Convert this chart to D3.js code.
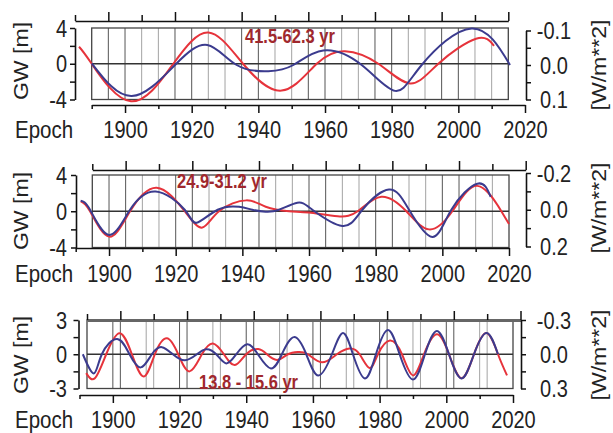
<!DOCTYPE html>
<html>
<head>
<meta charset="utf-8">
<script src="https://cdn.jsdelivr.net/npm/d3@7"></script>
<style>
body { margin: 0; background: #fff; }
</style>
</head>
<body>
<div id="chart"></div>
<script>
// red = GW [m] (left axis), blue = forcing W/m**2 (right axis, inverted)

// panel 1 : 41.5-62.3 yr
let years1Red = [1886.2, 1890, 1901.8, 1914.5, 1925, 1935.4, 1947, 1957.5, 1966, 1976, 1985.5, 1994, 2005.3, 2010.7];
let gw1 = [1.9, 0.0, -4.2, 0.0, 3.5, 0.0, -3.0, 0.0, 1.4, 0.0, -2.2, 0.0, 2.8, 2.0];
let years1Blue = [1890, 1902, 1915, 1924.7, 1933.5, 1943, 1950.5, 1959.5, 1971, 1981, 1989, 2004, 2015.5];
let flux1 = [-0.005, 0.090, 0.0, -0.058, 0.0, 0.018, 0.0, -0.042, 0.0, 0.075, 0.0, -0.106, 0.0];

// panel 2 : 24.9-31.2 yr
let years2Red = [1891.5, 1894.3, 1900, 1906.3, 1914.3, 1922.7, 1928, 1933, 1941.2, 1947, 1954, 1960, 1968.6, 1974.6, 1981.7, 1989.2, 1996, 2003, 2010.5, 2017.7, 2020];
let gw2 = [1.1, 0.0, -2.8, 0.0, 2.6, 0.0, -1.8, 0.0, 1.2, 0.5, 0.0, -0.15, -0.55, 0.0, 1.6, 0.0, -2.0, 0.0, 2.8, 0.0, -1.4];
let years2Blue = [1891.5, 1894.3, 1900, 1906.3, 1914, 1922.7, 1926.3, 1932.6, 1939, 1943, 1947, 1951, 1956.5, 1961, 1970, 1976, 1984, 1990, 1997, 2002.7, 2010.5, 2014.5];
let flux2 = [-0.049, 0.0, 0.137, 0.0, -0.099, 0.0, 0.071, 0.0, -0.016, 0.0, 0.011, 0.0, -0.038, 0.0, 0.088, 0.0, -0.110, 0.0, 0.148, 0.0, -0.142, -0.07];

// panel 3 : 13.8 - 15.6 yr
let years3Red = [1892, 1894.6, 1898, 1902, 1905.7, 1909.3, 1912.6, 1916.2, 1919.6, 1923, 1926.7, 1930, 1933.3, 1936.6, 1940, 1943.6, 1946.2, 1949.3, 1952.5, 1955.5, 1958.5, 1962.7, 1967.2, 1971, 1974, 1977, 1979.5, 1983.1, 1986.7, 1990, 1993.3, 1997.2, 2000.8, 2004.6, 2008.3, 2012.1, 2015.5, 2018.2];
let gw3 = [-1.65, -2.1, 0, 1.85, 0, -1.95, 0, 1.4, 0, -1.5, 0, 0.95, 0, -0.95, 0, 0.45, 0, -0.5, 0, 0.2, 0, -0.7, 0, 0.5, 0, -1.2, 0, 1.2, 0, -1.85, 0, 1.75, 0, -2.1, 0, 1.85, 0, -1.85];
let years3Blue = [1891, 1894.3, 1896.7, 1901.3, 1905, 1908.4, 1911.7, 1914.7, 1918, 1921.6, 1925.2, 1928, 1931, 1934, 1937, 1940.3, 1943.5, 1947.4, 1950.7, 1954.3, 1958, 1961.6, 1965.7, 1969, 1972, 1975.6, 1978.9, 1982.5, 1986, 1990, 1993.6, 1997.2, 2000.8, 2004.6, 2008.3, 2012.1, 2015.5];
let flux3 = [0, 0.168, 0, -0.133, 0, 0.115, 0, -0.062, 0, 0.053, 0, -0.044, 0, 0.08, 0, -0.088, 0, 0.124, 0, -0.15, 0, 0.186, 0, -0.186, 0, 0.212, 0, -0.212, 0, 0.221, 0, -0.204, 0, 0.212, 0, -0.186, 0];

// tick values
let decades = d3.range(1890, 2021, 10);
let gwTicks1 = [4, 2, 0, -2, -4], gwLabels1 = [4, 0, -4];
let fluxTicks1 = [-0.1, -0.05, 0, 0.05, 0.1], fluxLabels1 = [-0.1, 0, 0.1];
let gwTicks2 = [4, 2, 0, -2, -4], gwLabels2 = [4, 0, -4];
let fluxTicks2 = [-0.2, -0.1, 0, 0.1, 0.2], fluxLabels2 = [-0.2, 0, 0.2];
let gwTicks3 = [3, 1.5, 0, -1.5, -3], gwLabels3 = [3, 0, -3];
let fluxTicks3 = [-0.3, -0.15, 0, 0.15, 0.3], fluxLabels3 = [-0.3, 0, 0.3];
let periodLabels = ["41.5-62.3 yr", "24.9-31.2 yr", "13.8 - 15.6 yr"];

const FONT = "'Liberation Sans', Arial, Helvetica, sans-serif";
const SY = 1.15;
const RED = "#e6333b", BLUE = "#3b3b8e", LABEL = "#a0282d";

let panels = [
  {red: d3.zip(years1Red, gw1), blue: d3.zip(years1Blue, flux1), gwTicks: gwTicks1, gwLabels: gwLabels1, fluxTicks: fluxTicks1, fluxLabels: fluxLabels1, title: periodLabels[0],
   xBot: [91.7, 525], xTop: [75, 508.3], yLeft: [99.5, 28], yRight: [30.5, 99.5], topY: 21, botY: 105, leftX: 75, rightX: 526, topW: 1.6,
   labX: 245, labY: 43, baseOff: 33, gwY: 61, fluxY: 65},
  {red: d3.zip(years2Red, gw2), blue: d3.zip(years2Blue, flux2), gwTicks: gwTicks2, gwLabels: gwLabels2, fluxTicks: fluxTicks2, fluxLabels: fluxLabels2, title: periodLabels[1],
   xBot: [75.7, 509], xTop: [92.3, 525.7], yLeft: [247.5, 175], yRight: [173, 246.5], topY: 170, botY: 248, leftX: 76, rightX: 526, topW: 1.6,
   labX: 177, labY: 188, baseOff: 34, gwY: 211, fluxY: 208},
  {red: d3.zip(years3Red, gw3), blue: d3.zip(years3Blue, flux3), gwTicks: gwTicks3, gwLabels: gwLabels3, fluxTicks: fluxTicks3, fluxLabels: fluxLabels3, title: periodLabels[2],
   xBot: [79.5, 513], xTop: [87, 520.5], yLeft: [388.5, 320], yRight: [320, 388.5], topY: 320, botY: 395, leftX: 78.5, rightX: 521, topW: 2.8,
   labX: 199, labY: 389, baseOff: 33, gwY: 355, fluxY: 355}
];

let svg = d3.select("#chart").append("svg")
    .attr("width", 613)
    .attr("height", 433)
    .attr("font-family", FONT);

panels.forEach(drawPanel);

function fmtFlux(d) {
    return (d < 0 ? "-" : "") + Math.abs(d).toFixed(1);
}

function drawPanel(p) {
    let xBot = d3.scaleLinear().domain([1890, 2020]).range(p.xBot);
    let xTop = d3.scaleLinear().domain([1890, 2020]).range(p.xTop);
    let gwMax = d3.max(p.gwTicks);
    let fluxMax = d3.max(p.fluxTicks);
    let yL = d3.scaleLinear().domain([-gwMax, gwMax]).range(p.yLeft);
    let yR = d3.scaleLinear().domain([-fluxMax, fluxMax]).range(p.yRight);

    let boxL = Math.max(p.xBot[0], p.xTop[0]), boxR = Math.min(p.xBot[1], p.xTop[1]);
    let boxT = p.yLeft[1], boxB = p.yLeft[0];
    let g = svg.append("g");

    // vertical grid from both year scales
    [xBot, xTop].forEach(function(s) {
        g.selectAll(null)
            .data(decades.filter(d => s(d) > boxL + 1 && s(d) < boxR - 1))
            .enter().append("line")
            .attr("x1", d => s(d)).attr("x2", d => s(d))
            .attr("y1", boxT).attr("y2", boxB)
            .attr("stroke", d => d % 20 == 0 ? "#555" : "#a3a3a3")
            .attr("stroke-width", 1);
    });
    g.append("rect")
        .attr("x", boxL).attr("y", boxT)
        .attr("width", boxR - boxL).attr("height", boxB - boxT)
        .attr("fill", "none").attr("stroke", "#444").attr("stroke-width", 1.3);
    g.append("line")
        .attr("x1", boxL).attr("x2", boxR)
        .attr("y1", yL(0)).attr("y2", yL(0))
        .attr("stroke", "#333").attr("stroke-width", 1.4);

    // curves
    let redLine = d3.line().x(d => xBot(d[0])).y(d => yL(d[1])).curve(d3.curveNatural);
    let blueLine = d3.line().x(d => xBot(d[0])).y(d => yR(d[1])).curve(d3.curveNatural);
    g.append("path").attr("d", redLine(p.red))
        .attr("fill", "none").attr("stroke", RED).attr("stroke-width", 2);
    g.append("path").attr("d", blueLine(p.blue))
        .attr("fill", "none").attr("stroke", BLUE).attr("stroke-width", 2);

    // bottom axis
    let bot = g.append("g")
        .attr("transform", `translate(0,${p.botY})`)
        .call(d3.axisBottom(xBot).tickValues(decades).tickSize(8).tickSizeOuter(0)
            .tickFormat(d => d % 20 == 0 ? d : ""));
    bot.selectAll(".tick line").attr("y2", d => d % 20 == 0 ? 8 : 4);
    bot.selectAll("text").attr("y", null).attr("dy", null)
        .attr("transform", `translate(0,${p.baseOff}) scale(1,${SY})`);

    // top axis
    let top = g.append("g")
        .attr("transform", `translate(0,${p.topY})`)
        .call(d3.axisTop(xTop).tickValues(decades).tickSize(9).tickSizeOuter(0).tickFormat(""));
    top.selectAll(".tick line").attr("y2", d => d % 20 == 0 ? -9 : -6);
    top.select(".domain").attr("stroke", p.topW > 2 ? "#666" : "#111").attr("stroke-width", p.topW);

    // left axis
    let left = g.append("g")
        .attr("transform", `translate(${p.leftX},0)`)
        .call(d3.axisLeft(yL).tickValues(p.gwTicks).tickSize(5).tickSizeOuter(0)
            .tickFormat(d => p.gwLabels.includes(d) ? String(d) : ""));
    left.selectAll("text").attr("x", null).attr("dy", null)
        .attr("transform", `translate(${67 - p.leftX},8.2) scale(1,${SY})`);

    // right axis
    let right = g.append("g")
        .attr("transform", `translate(${p.rightX},0)`)
        .call(d3.axisRight(yR).tickValues(p.fluxTicks).tickSize(5).tickSizeOuter(0)
            .tickFormat(d => p.fluxLabels.includes(d) ? fmtFlux(d) : ""));
    right.selectAll("text").attr("x", null).attr("dy", null)
        .attr("text-anchor", "middle")
        .attr("transform", `translate(${554 - p.rightX},8.2) scale(1,${SY})`);

    [bot, top, left, right].forEach(function(a) {
        a.attr("font-family", FONT).attr("font-size", 20);
        a.selectAll("text").attr("fill", "#222");
        a.selectAll(".tick line").attr("stroke", "#111").attr("stroke-width", 1.5);
        a.selectAll(".domain").filter(function() { return a !== top; })
            .attr("stroke", "#111").attr("stroke-width", 1.6);
    });

    // titles
    g.append("text")
        .attr("transform", `translate(15,${p.botY + p.baseOff}) scale(1,${SY})`)
        .attr("font-size", 20.5).attr("fill", "#222")
        .text("Epoch");
    g.append("text")
        .attr("transform", `translate(28,${p.gwY}) scale(1,1.1) rotate(-90)`)
        .attr("text-anchor", "middle")
        .attr("font-size", 21).attr("fill", "#222")
        .text("GW [m]");
    g.append("text")
        .attr("transform", `translate(606,${p.fluxY}) scale(1,1.1) rotate(-90)`)
        .attr("text-anchor", "middle")
        .attr("font-size", 21).attr("fill", "#222")
        .text("[W/m**2]");
    g.append("text")
        .attr("transform", `translate(${p.labX},${p.labY}) scale(1,1.2)`)
        .attr("font-size", 16.5).attr("font-weight", "bold").attr("fill", LABEL)
        .text(p.title);
}
</script>
</body>
</html>
